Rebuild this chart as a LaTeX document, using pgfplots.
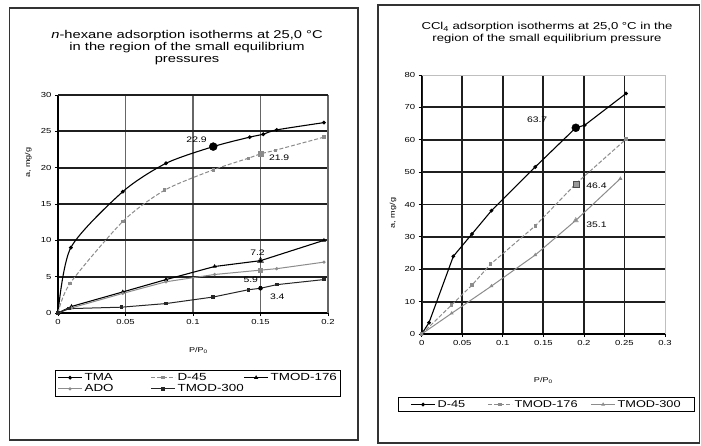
\documentclass[border=0pt]{standalone}
\usepackage{pgfplots}
\pgfplotsset{compat=1.18}
\usepackage{fontspec}
\setmainfont{Liberation Sans}[FakeStretch=1.3]

\definecolor{gline}{gray}{0.55}
\definecolor{gridk}{gray}{0.12}

\pgfplotsset{
  panel/.style={
    scale only axis, anchor=south west,
    axis x line*=bottom, axis y line*=left,
    axis line style={-, black, line width=1.3pt},
    tick align=outside, tick pos=left,
    major tick length=3pt,
    tick style={black, line width=0.8pt},
    ticklabel style={font=\fontsize{7.3}{8}\selectfont},
    scaled ticks=false,
    /pgf/number format/assume math mode=true,
    xmajorgrids, ymajorgrids,
    label style={font=\fontsize{7}{8}\selectfont},
    legend cell align=left,
    legend image code/.code={\draw[mark repeat=2,mark phase=2,##1] plot coordinates {(0pt,0pt) (12pt,0pt) (24pt,0pt)};},
    clip=false,
  },
  hl/.style={only marks, forget plot, nodes near coords, point meta=explicit symbolic,
    nodes near coords style={font=\fontsize{8}{9}\selectfont, text=black}},
}

\begin{document}
\begin{tikzpicture}
\useasboundingbox (0pt,0pt) rectangle (701pt,445pt);
\fill[white] (0pt,0pt) rectangle (701pt,445pt);
% panel frames
\draw[line width=1.4pt, black!80] (9.5pt,5pt) rectangle (358pt,437pt);
\draw[line width=1.4pt, black!80] (378pt,2pt) rectangle (699.5pt,440pt);

% ---------- n-hexane ----------
\begin{axis}[panel,
  at={(58pt,132pt)}, width=270pt, height=218pt,
  xmin=0, xmax=0.2, ymin=0, ymax=30,
  xtick={0,0.05,0.1,0.15}, xticklabels={0,0.05,0.1,0.15},
  ytick={0,5,10,15,20,25}, yticklabels={0,5,10,15,20,25},
  extra x ticks={0.2}, extra x tick labels={0.2},
  extra y ticks={30}, extra y tick labels={30},
  extra x tick style={grid style={black!25, line width=0.6pt}},
  extra y tick style={grid style={black!25, line width=0.6pt}},
  y grid style={gridk, line width=1.9pt},
  x grid style={black!60, line width=1.2pt},
  xlabel={P/P\textsubscript{0}},
  xlabel style={at={(axis description cs:0.52,-0.17)}, anchor=center},
  ylabel={a, mg/g},
  ylabel style={at={(axis description cs:-0.11,0.69)}, anchor=center},
  title={\textit{n}-hexane adsorption isotherms at 25,0 °C\\in the region of the small equilibrium\\pressures},
  title style={at={(axis description cs:0.478,1.19)}, anchor=center, align=center,
    font=\fontsize{11.3}{11.9}\selectfont},
  legend style={at={(axis description cs:-0.011,-0.261)}, anchor=north west,
    draw=black, line width=0.9pt, font=\fontsize{10.3}{10.5}\selectfont, legend columns=3,
    inner xsep=2pt, inner ysep=1pt, row sep=-1.5pt, nodes={inner xsep=2pt}},
]
\addplot[black, line width=1.1pt, smooth, tension=0.45, mark=*, mark size=1.3pt]
  coordinates {(0,0) (0.0095,9.0) (0.048,16.7) (0.080,20.6) (0.115,22.9) (0.142,24.2) (0.152,24.6) (0.162,25.2) (0.197,26.2)};
\addlegendentry{\makebox[64pt][l]{TMA}}
\addplot[gline, line width=1.0pt, smooth, tension=0.45, dash pattern=on 4pt off 2pt, mark=square*, mark size=1.2pt, mark options={solid}]
  coordinates {(0,0) (0.009,4.1) (0.048,12.6) (0.079,16.9) (0.115,19.7) (0.141,21.3) (0.15,21.9) (0.161,22.4) (0.197,24.2)};
\addlegendentry{\makebox[64pt][l]{D-45}}
\addplot[black, line width=1.1pt, mark=triangle*, mark size=1.4pt]
  coordinates {(0,0) (0.01,0.9) (0.048,2.9) (0.08,4.6) (0.116,6.4) (0.15,7.2) (0.197,10.0)};
\addlegendentry{TMOD-176}
\addplot[gline, line width=1.0pt, mark=*, mark size=1.1pt]
  coordinates {(0,0) (0.01,0.7) (0.048,2.7) (0.08,4.3) (0.116,5.3) (0.15,5.9) (0.162,6.1) (0.197,7.0)};
\addlegendentry{\makebox[64pt][l]{ADO}}
\addplot[black!85, line width=1.0pt, mark=square*, mark size=1.3pt]
  coordinates {(0,0) (0.008,0.6) (0.047,0.8) (0.08,1.3) (0.115,2.2) (0.141,3.2) (0.15,3.4) (0.162,3.9) (0.197,4.6)};
\addlegendentry{\makebox[64pt][l]{TMOD-300}}
% marked values
\addplot[hl, black, mark=*, mark size=4pt,
  nodes near coords style={anchor=south east, xshift=-3pt, yshift=0pt}]
  coordinates {(0.115,22.9) [22.9]};
\addplot[hl, gline, mark=square*, mark size=2.6pt,
  nodes near coords style={anchor=north west, xshift=5pt, yshift=2pt}]
  coordinates {(0.15,21.9) [21.9]};
\addplot[hl, black, mark=triangle, mark size=3.5pt, mark options={fill=white},
  nodes near coords style={anchor=south, xshift=-3pt, yshift=2pt}]
  coordinates {(0.15,7.2) [7.2]};
\addplot[hl, gline, mark=square*, mark size=2pt,
  nodes near coords style={anchor=north east, xshift=1pt, yshift=-3pt}]
  coordinates {(0.15,5.9) [5.9]};
\addplot[hl, black, mark=*, mark size=2pt,
  nodes near coords style={anchor=north west, xshift=6pt, yshift=-2pt}]
  coordinates {(0.15,3.4) [3.4]};
\end{axis}

% ---------- CCl4 ----------
\begin{axis}[panel,
  at={(421.7pt,111pt)}, width=243.3pt, height=259pt,
  xmin=0, xmax=0.3, ymin=0, ymax=80,
  xtick={0,0.05,0.1,0.15,0.2,0.25}, xticklabels={0,0.05,0.1,0.15,0.2,0.25},
  ytick={0,10,...,70}, yticklabels={0,10,20,30,40,50,60,70},
  extra x ticks={0.3}, extra x tick labels={0.3},
  extra y ticks={80}, extra y tick labels={80},
  extra x tick style={grid style={black!25, line width=0.6pt}},
  extra y tick style={grid style={black!25, line width=0.6pt}},
  grid style={gridk, line width=1.8pt},
  xlabel={P/P\textsubscript{0}},
  xlabel style={at={(axis description cs:0.5,-0.178)}, anchor=center},
  ylabel={a, mg/g},
  ylabel style={at={(axis description cs:-0.118,0.467)}, anchor=center},
  title={CCl\textsubscript{4} adsorption isotherms at 25,0 °C in the\\region of the small equilibrium pressure},
  title style={at={(axis description cs:0.515,1.139)}, anchor=center, align=center,
    font=\fontsize{10.1}{11.9}\selectfont},
  legend style={at={(axis description cs:-0.097,-0.243)}, anchor=north west,
    draw=black, line width=0.9pt, font=\fontsize{9.8}{10}\selectfont, legend columns=3,
    inner xsep=12pt, inner ysep=1pt, nodes={inner xsep=2pt}},
]
\addplot[black, line width=1.1pt, mark=*, mark size=1.3pt]
  coordinates {(0,0) (0.009,3.5) (0.039,24.0) (0.062,30.9) (0.086,38.1) (0.14,51.6) (0.19,63.7) (0.201,64.5) (0.252,74.3)};
\addlegendentry{\makebox[48pt][l]{D-45}}
\addplot[gline, line width=1.0pt, dash pattern=on 4pt off 2pt, mark=square*, mark size=1.2pt, mark options={solid}]
  coordinates {(0,0) (0.037,9.0) (0.062,15.1) (0.085,21.6) (0.14,33.4) (0.19,46.4) (0.252,60.2)};
\addlegendentry{\makebox[74pt][l]{TMOD-176}}
\addplot[gline, line width=1.0pt, mark=triangle*, mark size=1.3pt]
  coordinates {(0,0) (0.037,6.4) (0.086,14.8) (0.14,24.4) (0.19,35.1) (0.245,48.0)};
\addlegendentry{TMOD-300}
% marked values
\addplot[hl, black, mark=*, mark size=4pt,
  nodes near coords style={anchor=east, xshift=-25pt, yshift=8pt}]
  coordinates {(0.19,63.7) [63.7]};
\addplot[hl, black!70, mark=square*, mark size=3pt, mark options={fill=black!40},
  nodes near coords style={anchor=west, xshift=7pt, yshift=-2pt}]
  coordinates {(0.19,46.4) [46.4]};
\addplot[hl, gline, mark=triangle, mark size=3pt, mark options={fill=white},
  nodes near coords style={anchor=west, xshift=7pt, yshift=-4pt}]
  coordinates {(0.19,35.1) [35.1]};
\end{axis}
\end{tikzpicture}
\end{document}
